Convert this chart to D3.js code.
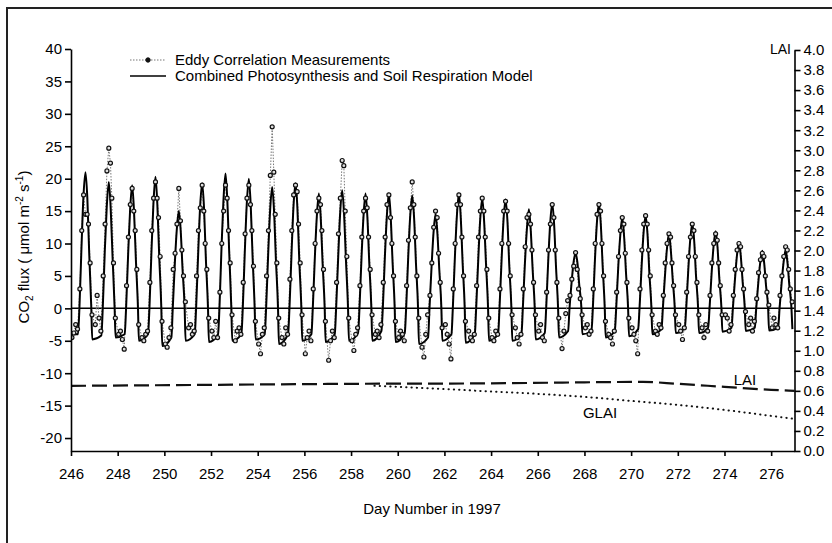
<!DOCTYPE html>
<html>
<head>
<meta charset="utf-8">
<script src="https://cdn.jsdelivr.net/npm/d3@7"></script>
<style>
body { margin: 0; background: #fff; }
svg text { font-family: "Liberation Sans", Arial, sans-serif; fill: #000; }
</style>
</head>
<body>
<svg class="chart" width="832" height="543"></svg>
<script>
// days shown (each day gets one diurnal cycle)
var days = d3.range(246, 277);

// model curve: sample times within a day and values read for each day
var modelTimes = [0.30, 0.36, 0.45, 0.53, 0.62, 0.70, 0.78, 0.87, 0.91];
var modelValues = [
    [-4, 0, 9.5, 17, 21, 17, 8.5, 0, -4.8],
    [-4.2, 0, 9, 15.5, 19.5, 15.5, 8, 0, -4.5],
    [-4, 0, 8.5, 15, 19, 15, 7.5, 0, -5],
    [-4, 0, 9, 16, 20.3, 16, 8, 0, -5.8],
    [-4.5, 0, 7, 12, 15, 12, 6, 0, -5],
    [-4, 0, 8.5, 15.5, 19.3, 15.5, 7.5, 0, -5.2],
    [-4, 0, 9.5, 16.5, 20.8, 16.5, 8.5, 0, -5],
    [-4, 0, 9, 16, 20, 16, 8, 0, -4.8],
    [-4, 0, 8.5, 15, 18.7, 15, 7.5, 0, -5.5],
    [-4, 0, 8.5, 15.5, 19.3, 15.5, 7.5, 0, -5],
    [-4, 0, 8, 14, 17.7, 14, 7, 0, -5.2],
    [-4, 0, 8, 14.5, 18.2, 14.5, 7.5, 0, -5],
    [-3.8, 0, 8, 14, 17.7, 14, 7, 0, -5],
    [-3.5, 0, 8, 14, 17.7, 14, 7, 0, -5.2],
    [-3.8, 0, 8, 14, 17.4, 14, 7, 0, -5.5],
    [-4.5, 0, 6.5, 11.5, 14.5, 11.5, 6, 0, -5],
    [-4, 0, 8, 14, 17.7, 14, 7, 0, -5.3],
    [-4, 0, 7.5, 13.5, 17, 13.5, 7, 0, -5],
    [-4, 0, 7.5, 13.5, 16.8, 13.5, 6.5, 0, -5],
    [-4, 0, 7, 12, 15.3, 12, 6, 0, -4.8],
    [-3.8, 0, 7.5, 13, 16.2, 13, 6.5, 0, -4.5],
    [-3.5, 0, 4, 7, 8.5, 7, 3.5, 0, -4],
    [-3.5, 0, 7.5, 13, 16.2, 13, 6.5, 0, -4.5],
    [-3.5, 0, 6.5, 11, 14, 11, 5.5, 0, -4.3],
    [-3.2, 0, 6.5, 11.5, 14.3, 11.5, 5.5, 0, -4],
    [-3.2, 0, 5, 9, 11.5, 9, 4.5, 0, -3.8],
    [-3, 0, 6, 10.5, 13.1, 10.5, 5, 0, -3.8],
    [-3, 0, 5.5, 9.5, 11.9, 9.5, 4.5, 0, -3.6],
    [-3, 0, 4.5, 8, 10.2, 8, 4, 0, -3.5],
    [-3, 0, 4, 7, 8.9, 7, 3.5, 0, -3.4],
    [-3, 0, 4, 7, 9, 7, 3.5, 0, -3.2]
];

// eddy correlation measurements: sample times within a day and values per day
var measTimes = [0.04, 0.12, 0.20, 0.28, 0.38, 0.46, 0.54, 0.62, 0.69, 0.75, 0.82, 0.90];
var measValues = [
    [-4.5, -3.8, -2.5, -3.2, 3, 12, 17.5, 14.5, 14.5, 13, 7, -1],
    [-2.5, 2, -1.5, -3.5, 5, 13, 21.2, 24.7, 22.4, 17, 7, -1.5],
    [-4, -3.5, -4.8, -6.3, 3.5, 11, 16, 18.5, 15, 12, 6, -2.5],
    [-4.5, -5, -4, -3.5, 4, 12, 17, 19.5, 17, 14, 8, -2],
    [-5.5, -6, -4.5, -3, 6, 8.5, 13, 18.5, 13.5, 9, 5, 1],
    [-3, -2.5, -4, -3.5, 5, 12, 15.5, 19, 15, 10, 6, -1.5],
    [-3.5, -4.5, -2, -4.5, 2.5, 10, 15, 19, 17, 12, 7, -1],
    [-5, -3.5, -3, -4, 4, 11.5, 17, 19, 16, 12, 6.5, -2],
    [-5.5, -7, -4, -3, 5, 12, 20.5, 28, 21, 14.5, 7, -1.5],
    [-4.5, -5.5, -3, -4, 4.5, 12, 17.5, 19, 18, 13, 7, -1],
    [-7, -4.5, -3.5, -5, 3, 10, 15, 17, 16, 12, 6, -2],
    [-8, -5, -3.5, -4.5, 4, 11.5, 17, 22.8, 22, 15, 8, -1.5],
    [-5, -6.5, -4, -3, 3.5, 11, 15, 17, 15.5, 11, 6, -1],
    [-4, -3.5, -4.5, -2.5, 4, 11, 16, 17.5, 14, 10, 5, -2],
    [-4.5, -3.5, -4, -5, 3.5, 10.5, 15.5, 19.5, 16, 11, 5, -1.5],
    [-6, -7.5, -4, -1, 2, 7, 12.5, 15, 14, 8.5, 4, -3],
    [-2.5, -4, -5.5, -7.8, 3, 10, 16, 17.5, 16, 11, 5, -2],
    [-3.5, -4.5, -5, -4, 3.5, 11, 15, 17, 15, 11, 6, -1.5],
    [-4.5, -5, -3.5, -4, 3, 10, 15, 16.5, 15, 10, 5, -1],
    [-3, -4.5, -5.5, -4, 3, 9.5, 14, 14.5, 13, 9, 4, -1],
    [-3.5, -2.5, -4.5, -5, 2.5, 9, 13, 16, 14, 9, 4, -1.5],
    [-6.2, -3.5, -0.8, 1.2, 2, 4.5, 6.5, 8.6, 6, 3, 1.5, -1],
    [-3, -2.5, -4, -3.5, 3, 10, 14.5, 16, 15, 10, 5, -2],
    [-4, -4.5, -5.5, -3.5, 2.5, 8, 12, 14, 13, 8.5, 4, -1.5],
    [-3, -4, -5, -7, 3, 9, 13, 14.3, 13, 9, 5, -1],
    [-3.5, -4, -2.5, -3, 2, 7, 10, 11.5, 11, 7, 3.5, -1],
    [-2.5, -3.5, -4.8, -3, 2.5, 8, 11, 13, 12, 8, 4, -1],
    [-3, -4.5, -2.5, -3.5, 2, 7, 10, 11.5, 10.5, 7, 3.5, -1],
    [-1, -1.5, -3.5, -2.5, 2, 6, 9, 10, 9.5, 6, 3, -0.5],
    [-2.5, -1.5, -3.5, -2, 1.5, 5.5, 7.5, 8.5, 8, 5, 2.5, 0.5],
    [-3, -1.5, -2.5, -3, 2, 5, 8, 9.5, 9, 6, 3, 1]
];

// leaf area index (right axis)
var laiDays = [246, 252, 258, 264, 268, 270.5, 272, 274, 276, 277];
var laiValues = [0.65, 0.66, 0.67, 0.675, 0.685, 0.69, 0.67, 0.64, 0.61, 0.60];
var glaiDays = [259, 261, 263.5, 266, 268, 270, 272, 274, 276, 277];
var glaiValues = [0.65, 0.63, 0.60, 0.57, 0.54, 0.50, 0.46, 0.41, 0.35, 0.32];

var fluxTicks = [-20, -15, -10, -5, 0, 5, 10, 15, 20, 25, 30, 35, 40];
var laiTicks = d3.range(0, 21).map(function(i) { return i / 5; });
var dayTicks = d3.range(246, 277, 2);

var plotL = 71, plotR = 794.5, plotT = 49, plotB = 451;

var x = d3.scaleLinear().domain([246, 277]).range([plotL, plotR]);
var y = d3.scaleLinear().domain([-22, 40]).range([plotB, plotT]);
var y2 = d3.scaleLinear().domain([0, 4]).range([plotB, 50]);

var svg = d3.select(".chart");

// outer frame
svg.append("rect")
    .attr("x", 7).attr("y", 8)
    .attr("width", 900).attr("height", 700)
    .attr("fill", "none")
    .attr("stroke", "#222")
    .attr("stroke-width", 2);

svg.append("clipPath").attr("id", "plot")
    .append("rect")
    .attr("x", plotL).attr("y", plotT - 10)
    .attr("width", plotR - plotL).attr("height", plotB - plotT + 10);

// build point lists from the arrays
var modelPts = [{x: 246, y: -4}];
var measPts = [];
days.forEach(function(d, i) {
    modelTimes.forEach(function(t, j) {
        modelPts.push({x: d + t, y: modelValues[i][j]});
    });
    measTimes.forEach(function(t, j) {
        measPts.push({x: d + t, y: measValues[i][j]});
    });
});

var g = svg.append("g").attr("clip-path", "url(#plot)");

// zero line
g.append("line")
    .attr("x1", plotL).attr("x2", plotR)
    .attr("y1", y(0)).attr("y2", y(0))
    .attr("stroke", "#000")
    .attr("stroke-width", 1.5);

// LAI and GLAI
var laiLine = d3.line()
    .x(function(d) { return x(d[0]); })
    .y(function(d) { return y2(d[1]); })
    .curve(d3.curveMonotoneX);

g.append("path")
    .attr("d", laiLine(d3.zip(laiDays, laiValues)))
    .attr("fill", "none")
    .attr("stroke", "#111")
    .attr("stroke-width", 2.2)
    .attr("stroke-dasharray", "15,6");

g.append("path")
    .attr("d", laiLine(d3.zip(glaiDays, glaiValues)))
    .attr("fill", "none")
    .attr("stroke", "#111")
    .attr("stroke-width", 2)
    .attr("stroke-linecap", "round")
    .attr("stroke-dasharray", "0.3,5");

// measurements dotted connecting line
var measLine = d3.line()
    .x(function(d) { return x(d.x); })
    .y(function(d) { return y(d.y); });

g.append("path")
    .attr("d", measLine(measPts))
    .attr("fill", "none")
    .attr("stroke", "#777")
    .attr("stroke-width", 1)
    .attr("stroke-dasharray", "1.5,1.5");

// model line
var modelLine = d3.line()
    .x(function(d) { return x(d.x); })
    .y(function(d) { return y(d.y); })
    .curve(d3.curveMonotoneX);

g.append("path")
    .attr("d", modelLine(modelPts))
    .attr("fill", "none")
    .attr("stroke", "#000")
    .attr("stroke-width", 2);

// measurement markers
g.selectAll(".pt")
    .data(measPts)
    .enter().append("circle")
    .attr("class", "pt")
    .attr("cx", function(d) { return x(d.x); })
    .attr("cy", function(d) { return y(d.y); })
    .attr("r", 2)
    .attr("fill", "#ddd")
    .attr("stroke", "#111")
    .attr("stroke-width", 1.2);

// left axis
var yAxis = svg.append("g")
    .attr("transform", "translate(" + plotL + ",0)")
    .call(d3.axisLeft(y).tickValues(fluxTicks).tickSize(6).tickSizeOuter(0)
        .tickFormat(function(d) { return String(d); }));

// right axis
var y2Axis = svg.append("g")
    .attr("transform", "translate(" + plotR + ",0)")
    .call(d3.axisRight(y2).tickValues(laiTicks).tickSize(6).tickSizeOuter(0)
        .tickFormat(d3.format(".1f")));

// bottom axis
var xAxis = svg.append("g")
    .attr("transform", "translate(0," + plotB + ")")
    .call(d3.axisBottom(x).tickValues(dayTicks).tickSize(5).tickSizeOuter(0)
        .tickPadding(12));

[yAxis, y2Axis, xAxis].forEach(function(a) {
    a.selectAll("path, line").attr("stroke", "#000").attr("stroke-width", 1.6);
    a.selectAll("text").attr("font-size", 15).attr("fill", "#000")
        .attr("font-family", "Liberation Sans, Arial, sans-serif");
});

// axis titles
var ylab = svg.append("text")
    .attr("transform", "translate(29,247) rotate(-90)")
    .attr("text-anchor", "middle")
    .attr("font-size", 15);
ylab.append("tspan").text("CO");
ylab.append("tspan").attr("font-size", 10).attr("dy", 4).text("2");
ylab.append("tspan").attr("dy", -4).text(" flux ( \u03bcmol m");
ylab.append("tspan").attr("font-size", 10).attr("dy", -6).text("-2");
ylab.append("tspan").attr("dy", 6).text(" s");
ylab.append("tspan").attr("font-size", 10).attr("dy", -6).text("-1");
ylab.append("tspan").attr("dy", 6).text(")");

svg.append("text")
    .attr("x", 432).attr("y", 514)
    .attr("text-anchor", "middle")
    .attr("font-size", 15)
    .text("Day Number in 1997");

svg.append("text")
    .attr("x", 791).attr("y", 54)
    .attr("text-anchor", "end")
    .attr("font-size", 14)
    .text("LAI");

svg.append("text")
    .attr("x", 745).attr("y", 385)
    .attr("text-anchor", "middle")
    .attr("font-size", 15)
    .text("LAI");

svg.append("text")
    .attr("x", 600).attr("y", 418)
    .attr("text-anchor", "middle")
    .attr("font-size", 15)
    .text("GLAI");

// legend
svg.append("line")
    .attr("x1", 130).attr("x2", 166).attr("y1", 60).attr("y2", 60)
    .attr("stroke", "#777").attr("stroke-dasharray", "1.5,1.5");
svg.append("circle")
    .attr("cx", 148).attr("cy", 60).attr("r", 2.2)
    .attr("fill", "#111").attr("stroke", "#111");
svg.append("text")
    .attr("x", 175).attr("y", 65)
    .attr("font-size", 15)
    .text("Eddy Correlation Measurements");

svg.append("line")
    .attr("x1", 130).attr("x2", 166).attr("y1", 76).attr("y2", 76)
    .attr("stroke", "#000").attr("stroke-width", 1.7);
svg.append("text")
    .attr("x", 175).attr("y", 81)
    .attr("font-size", 15)
    .text("Combined Photosynthesis and Soil Respiration Model");
</script>
</body>
</html>
